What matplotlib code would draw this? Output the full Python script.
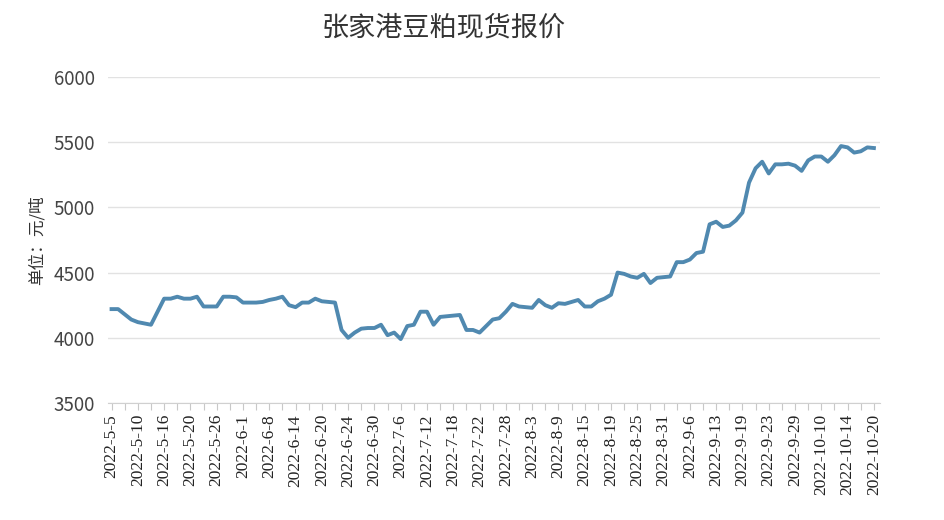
import matplotlib
matplotlib.use("Agg")
import matplotlib.pyplot as plt
from matplotlib.ticker import MultipleLocator

plt.rcParams['font.family'] = ['Noto Sans CJK SC', 'DejaVu Sans']

# 张家港豆粕现货报价（元/吨），按工作日
prices = [
    4220, 4220, 4180, 4140, 4120, 4110, 4100, 4200, 4300, 4300,
    4315, 4300, 4300, 4315, 4240, 4240, 4240, 4315, 4315, 4310,
    4270, 4270, 4270, 4275, 4290, 4300, 4315, 4250, 4235, 4270,
    4270, 4300, 4280, 4275, 4270, 4060, 4000, 4040, 4070, 4075,
    4075, 4100, 4020, 4040, 3990, 4090, 4100, 4200, 4200, 4100,
    4160, 4165, 4170, 4175, 4060, 4060, 4040, 4090, 4140, 4150,
    4200, 4260, 4240, 4235, 4230, 4290, 4250, 4230, 4265, 4260,
    4275, 4290, 4240, 4240, 4280, 4300, 4330, 4500, 4490, 4470,
    4460, 4490, 4420, 4460, 4465, 4470, 4580, 4580, 4600, 4650,
    4660, 4870, 4890, 4850, 4860, 4900, 4960, 5190, 5300, 5350,
    5260, 5330, 5330, 5335, 5320, 5280, 5360, 5390, 5390, 5350,
    5400, 5470, 5460, 5420, 5430, 5460, 5455,
]

# 每4个数据点一个日期标签
tick_labels = [
    "2022-5-5", "2022-5-10", "2022-5-16", "2022-5-20", "2022-5-26",
    "2022-6-1", "2022-6-8", "2022-6-14", "2022-6-20", "2022-6-24",
    "2022-6-30", "2022-7-6", "2022-7-12", "2022-7-18", "2022-7-22",
    "2022-7-28", "2022-8-3", "2022-8-9", "2022-8-15", "2022-8-19",
    "2022-8-25", "2022-8-31", "2022-9-6", "2022-9-13", "2022-9-19",
    "2022-9-23", "2022-9-29", "2022-10-10", "2022-10-14", "2022-10-20",
]
label_step = 4

fig = plt.figure(figsize=(9.44, 5.2), dpi=100)
ax = fig.add_axes([0.114, 0.225, 0.818, 0.627])

x = list(range(len(prices)))
ax.plot(x, prices, color="#5089b0", linewidth=2.8, solid_joinstyle="round")

ax.set_ylim(3500, 6000)
ax.set_yticks(range(3500, 6001, 500))
ax.set_xlim(-0.6, 116.9)

ax.set_xticks([i * label_step for i in range(len(tick_labels))])
ax.set_xticklabels(tick_labels, rotation=90, fontsize=12.5, color="#222222",
                   family=["Liberation Serif", "DejaVu Serif"])
ax.xaxis.set_minor_locator(MultipleLocator(2))
ax.tick_params(axis="x", which="both", length=5, color="#c8c8c8", width=0.8, pad=3)
ax.tick_params(axis="y", length=0, labelsize=13.5, labelcolor="#444444", pad=9)

ax.grid(axis="y", color="#e2e2e2", linewidth=1.0)
ax.set_axisbelow(True)
for side in ["top", "right", "left"]:
    ax.spines[side].set_visible(False)
ax.spines["bottom"].set_color("#d0d0d0")

ax.set_ylabel("单位：元/吨", fontsize=12, color="#333333", labelpad=6)
fig.text(0.47, 0.946, "张家港豆粕现货报价", ha="center", va="center",
         fontsize=19.5, color="#333333")

fig.savefig("out.png", dpi=100, facecolor="white")
